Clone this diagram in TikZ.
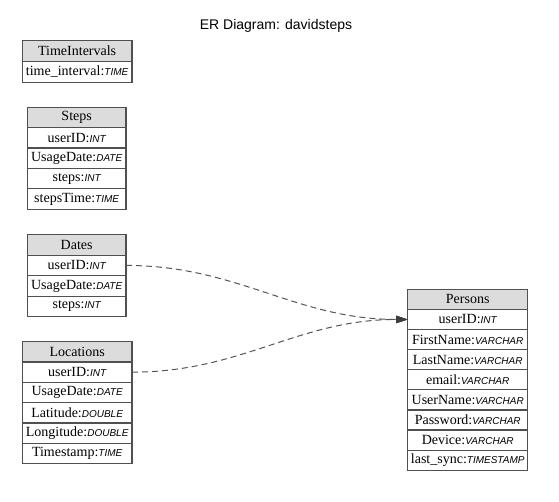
\documentclass[tikz,border=0pt]{standalone}
\usepackage{fontspec}
\setmainfont{Liberation Serif}
\newfontfamily\sansfam{Liberation Sans}
\usetikzlibrary{arrows.meta}
\definecolor{bordercol}{HTML}{505050}
\definecolor{headfill}{HTML}{DCDCDC}
\definecolor{edgecol}{HTML}{555555}
\definecolor{tipcol}{HTML}{3C3C3C}
\newcommand{\fld}[2]{{\fontsize{14}{16}\selectfont #1:}{\sansfam\itshape\fontsize{10}{12}\selectfont #2}}
\newcommand{\hdr}[1]{{\fontsize{14}{16}\selectfont #1}}
\begin{document}
\begin{tikzpicture}[x=1pt,y=-1pt,
  cell/.style={draw=bordercol,line width=1.2pt,anchor=north west,inner sep=0pt,outer sep=0pt},
  headcell/.style={cell,fill=headfill},
  rel/.style={draw=edgecol,line width=1pt,dash pattern=on 6pt off 4pt,
    -{Triangle[length=11.5pt,width=7.5pt,fill=tipcol,color=tipcol,line width=0.4pt,sep=0pt]}},
  title/.style={font=\sansfam\fontsize{14}{16}\selectfont,inner sep=0pt}]
\useasboundingbox (0,0) rectangle (559,502);
\node[title] (title) at (276,26) {ER Diagram: davidsteps};
% TimeIntervals
\begin{scope}[every node/.append style={minimum width=109.7pt,minimum height=20.8pt}]
\node[headcell] (ti0) at (22.3,40.7) {\hdr{TimeIntervals}};
\node[cell] (ti1) at (22.3,61.5) {\fld{time\_interval}{TIME}};
\end{scope}
% Steps
\begin{scope}[every node/.append style={minimum width=98.7pt,minimum height=20.4pt}]
\node[headcell] (st0) at (27.3,107.3) {\hdr{Steps}};
\node[cell] (st1) at (27.3,127.7) {\fld{userID}{INT}};
\node[cell] (st2) at (27.3,148.1) {\fld{UsageDate}{DATE}};
\node[cell] (st3) at (27.3,168.5) {\fld{steps}{INT}};
\node[cell] (st4) at (27.3,188.9) {\fld{stepsTime}{TIME}};
\end{scope}
% Dates
\begin{scope}[every node/.append style={minimum width=98.7pt,minimum height=20.5pt}]
\node[headcell] (da0) at (27.3,234.7) {\hdr{Dates}};
\node[cell] (da1) at (27.3,255.2) {\fld{userID}{INT}};
\node[cell] (da2) at (27.3,275.7) {\fld{UsageDate}{DATE}};
\node[cell] (da3) at (27.3,296.2) {\fld{steps}{INT}};
\end{scope}
% Locations
\begin{scope}[every node/.append style={minimum width=109.7pt,minimum height=20.3pt}]
\node[headcell] (lo0) at (22.3,341.7) {\hdr{Locations}};
\node[cell] (lo1) at (22.3,362.0) {\fld{userID}{INT}};
\node[cell] (lo2) at (22.3,382.3) {\fld{UsageDate}{DATE}};
\node[cell] (lo3) at (22.3,402.6) {\fld{Latitude}{DOUBLE}};
\node[cell] (lo4) at (22.3,422.9) {\fld{Longitude}{DOUBLE}};
\node[cell] (lo5) at (22.3,443.2) {\fld{Timestamp}{TIME}};
\end{scope}
% Persons
\begin{scope}[every node/.append style={minimum width=120pt,minimum height=20.1pt}]
\node[headcell] (pe0) at (407.7,289.3) {\hdr{Persons}};
\node[cell] (pe1) at (407.7,309.4) {\fld{userID}{INT}};
\node[cell] (pe2) at (407.7,329.5) {\fld{FirstName}{VARCHAR}};
\node[cell] (pe3) at (407.7,349.6) {\fld{LastName}{VARCHAR}};
\node[cell] (pe4) at (407.7,369.7) {\fld{email}{VARCHAR}};
\node[cell] (pe5) at (407.7,389.8) {\fld{UserName}{VARCHAR}};
\node[cell] (pe6) at (407.7,409.9) {\fld{Password}{VARCHAR}};
\node[cell] (pe7) at (407.7,430.0) {\fld{Device}{VARCHAR}};
\node[cell] (pe8) at (407.7,450.1) {\fld{last\_sync}{TIMESTAMP}};
\end{scope}
% relations
\draw[rel] (da1.east) to[out=0,in=180] (pe1.west);
\draw[rel] (lo1.east) to[out=0,in=180] (pe1.west);
\end{tikzpicture}
\end{document}
